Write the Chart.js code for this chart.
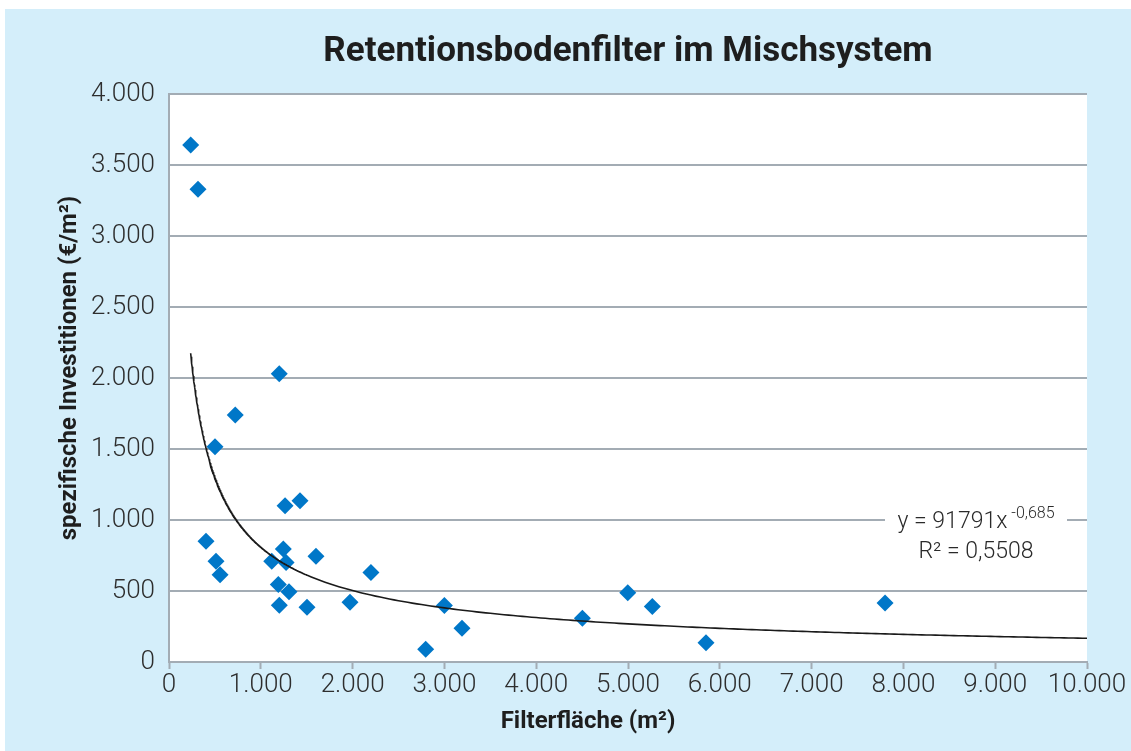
<!DOCTYPE html>
<html lang="de">
<head>
    <meta charset="UTF-8">
    <title>Retentionsbodenfilter im Mischsystem</title>
    <style>
        body {
            margin: 0;
            background: #ffffff;
        }
        #chart {
            display: block;
        }
    </style>
</head>
<body>
    <canvas id="chart" width="1131" height="751"></canvas>
    <script src="https://cdn.jsdelivr.net/npm/chart.js"></script>
    <script>
        // Filterfläche (m²) und spezifische Investitionen (€/m²)
        const filterArea = [236, 316, 403, 501, 512, 556, 722, 1119, 1191, 1201, 1202, 1245, 1264, 1275,
                            1307, 1427, 1503, 1601, 1972, 2200, 2796, 3000, 3192, 4503, 4997, 5265, 5850, 7800];
        const investment = [3640, 3330, 850, 1515, 710, 615, 1740, 710, 545, 2030, 400, 795, 1100, 700,
                            495, 1135, 385, 745, 420, 630, 90, 398, 238, 308, 488, 390, 136, 415];

        // Potenz-Trendlinie laut Diagramm: y = 91791 x^-0,685
        const trendA = 91791;
        const trendB = -0.685;
        const trendLabel = ['y = 91791x', '-0,685', 'R² = 0,5508'];

        const xTicks = [0, 1000, 2000, 3000, 4000, 5000, 6000, 7000, 8000, 9000, 10000];
        const yTicks = [0, 500, 1000, 1500, 2000, 2500, 3000, 3500, 4000];

        const FONT = 'Roboto, "Liberation Sans", Arial, sans-serif';
        const BLUE_BG = '#d4eefa';
        const GRID = '#a3acb4';

        function fmt(v) {
            return String(v).replace(/\B(?=(\d{3})+(?!\d))/g, '.');
        }

        const points = filterArea.map((x, i) => ({ x: x, y: investment[i] }));

        // Trendlinie entlang der x-Achse abtasten, vom kleinsten Wert bis zum Achsenende
        const xEnd = xTicks[xTicks.length - 1];
        const trendPoints = [];
        for (let x = filterArea[0]; x < xEnd; x += (x < 1500 ? 4 : 50)) {
            trendPoints.push({ x: x, y: trendA * Math.pow(x, trendB) });
        }
        trendPoints.push({ x: xEnd, y: trendA * Math.pow(xEnd, trendB) });

        const backgroundPlugin = {
            id: 'background',
            beforeDraw(chart) {
                const ctx = chart.ctx;
                const a = chart.chartArea;
                ctx.save();
                ctx.fillStyle = '#ffffff';
                ctx.fillRect(0, 0, chart.width, chart.height);
                ctx.fillStyle = BLUE_BG;
                ctx.fillRect(5, 9, chart.width - 5, chart.height - 9);
                ctx.fillStyle = '#ffffff';
                ctx.fillRect(a.left, a.top, a.right - a.left, a.bottom - a.top);
                ctx.restore();
            }
        };

        const labelsPlugin = {
            id: 'labels',
            afterDraw(chart) {
                const ctx = chart.ctx;
                const a = chart.chartArea;
                ctx.save();
                ctx.fillStyle = '#1e1e1e';
                ctx.font = 'bold 24px ' + FONT;
                ctx.textAlign = 'center';
                ctx.textBaseline = 'middle';
                // x-Achsentitel
                ctx.fillText('Filterfläche (m²)', (a.left + a.right) / 2 - 40, 722);
                // y-Achsentitel
                ctx.translate(70, (a.top + a.bottom) / 2 - 10);
                ctx.rotate(-Math.PI / 2);
                ctx.fillText('spezifische Investitionen (€/m²)', 0, 0);
                ctx.restore();
            },
            afterDatasetsDraw(chart) {
                const ctx = chart.ctx;
                const a = chart.chartArea;
                const yScale = chart.scales.y;
                const yMid = yScale.getPixelForValue(1000);
                const boxRight = a.right - 20;
                const boxLeft = boxRight - 182;
                ctx.save();
                ctx.fillStyle = '#ffffff';
                ctx.fillRect(boxLeft, yMid - 16, boxRight - boxLeft, 48);
                ctx.fillStyle = '#2a2a2a';
                ctx.textBaseline = 'alphabetic';
                ctx.textAlign = 'left';
                ctx.font = '300 23px ' + FONT;
                const w1 = ctx.measureText(trendLabel[0]).width;
                ctx.font = '300 16px ' + FONT;
                const w2 = ctx.measureText(trendLabel[1]).width;
                const cx = (boxLeft + boxRight) / 2;
                const x1 = cx - (w1 + 4 + w2) / 2;
                ctx.font = '300 23px ' + FONT;
                ctx.fillText(trendLabel[0], x1, yMid + 8);
                ctx.font = '300 16px ' + FONT;
                ctx.fillText(trendLabel[1], x1 + w1 + 4, yMid - 2);
                ctx.font = '300 23px ' + FONT;
                ctx.textAlign = 'center';
                ctx.fillText(trendLabel[2], cx, yMid + 38);
                ctx.restore();
            }
        };

        new Chart(document.getElementById('chart'), {
            type: 'scatter',
            data: {
                datasets: [
                    {
                        label: 'Trend',
                        data: trendPoints,
                        showLine: true,
                        borderColor: '#1a1a1a',
                        borderWidth: 1.6,
                        pointRadius: 0,
                        tension: 0
                    },
                    {
                        label: 'Retentionsbodenfilter',
                        data: points,
                        pointStyle: 'rectRot',
                        pointRadius: 8.5,
                        pointBackgroundColor: '#0077c8',
                        pointBorderColor: '#0077c8',
                        pointBorderWidth: 0
                    }
                ]
            },
            options: {
                responsive: false,
                animation: false,
                layout: {
                    padding: { left: 0, right: 44, top: 0, bottom: 0 }
                },
                plugins: {
                    legend: { display: false },
                    tooltip: { enabled: false },
                    title: {
                        display: true,
                        text: 'Retentionsbodenfilter im Mischsystem',
                        fullSize: false,
                        color: '#1e1e1e',
                        font: { family: FONT, size: 35, weight: 'bold', lineHeight: 1.2 },
                        padding: { top: 31, bottom: 21 }
                    }
                },
                scales: {
                    x: {
                        type: 'linear',
                        min: xTicks[0],
                        max: xEnd,
                        afterBuildTicks(scale) {
                            scale.ticks = xTicks.map(v => ({ value: v }));
                        },
                        afterFit(scale) {
                            scale.height = 89;
                        },
                        ticks: {
                            color: '#2e2e2e',
                            font: { family: FONT, size: 26, weight: '300' },
                            padding: 1,
                            maxRotation: 0,
                            callback: v => fmt(v)
                        },
                        grid: {
                            drawOnChartArea: false,
                            drawTicks: true,
                            tickLength: 7,
                            tickColor: GRID,
                            tickWidth: 2
                        },
                        border: { display: true, color: GRID, width: 2 }
                    },
                    y: {
                        type: 'linear',
                        min: yTicks[0],
                        max: yTicks[yTicks.length - 1],
                        afterBuildTicks(scale) {
                            scale.ticks = yTicks.map(v => ({ value: v }));
                        },
                        afterFit(scale) {
                            scale.width = 169;
                        },
                        ticks: {
                            color: '#2e2e2e',
                            font: { family: FONT, size: 26, weight: '300' },
                            padding: 14,
                            callback: v => fmt(v)
                        },
                        grid: {
                            color: GRID,
                            lineWidth: 2,
                            drawTicks: false
                        },
                        border: { display: true, color: GRID, width: 2 }
                    }
                }
            },
            plugins: [backgroundPlugin, labelsPlugin]
        });
    </script>
</body>
</html>
